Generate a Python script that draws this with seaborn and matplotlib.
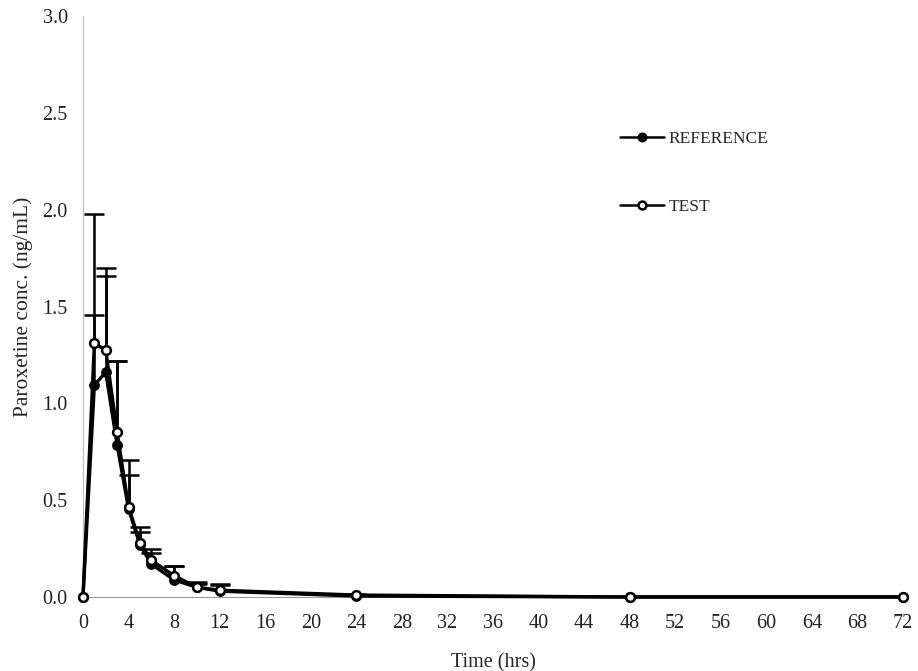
import numpy as np
import pandas as pd
import matplotlib
matplotlib.use("Agg")
import matplotlib.pyplot as plt
import seaborn as sns

time_hrs = [0, 1, 2, 3, 4, 5, 6, 8, 10, 12, 24, 48, 72]
ref_mean = [0.0, 1.095, 1.16, 0.785, 0.455, 0.27, 0.17, 0.088, 0.05, 0.03, 0.005, 0.0, 0.0]
ref_sd = [0.0, 0.36, 0.54, 0.435, 0.175, 0.065, 0.057, 0.072, 0.017, 0.03, 0.005, 0.0, 0.0]
test_mean = [0.0, 1.31, 1.275, 0.85, 0.465, 0.28, 0.19, 0.11, 0.05, 0.035, 0.01, 0.0, 0.0]
test_sd = [0.0, 0.67, 0.385, 0.37, 0.24, 0.08, 0.058, 0.05, 0.027, 0.032, 0.005, 0.0, 0.0]
x_ticks = list(range(0, 73, 4))
y_ticks = [0.0, 0.5, 1.0, 1.5, 2.0, 2.5, 3.0]

sns.set_style("white")
plt.rcParams['font.family'] = ['Liberation Serif', 'DejaVu Serif']

fig = plt.figure(figsize=(9.18, 6.71), dpi=100)
ax = fig.add_axes([0.0904, 0.1103, 0.8933, 0.8658])

df = pd.DataFrame({
    "Time": time_hrs * 2,
    "Conc": ref_mean + test_mean,
    "Group": ["REFERENCE"] * len(time_hrs) + ["TEST"] * len(time_hrs),
})

# error bars (upper only)
for mean, sd in [(ref_mean, ref_sd), (test_mean, test_sd)]:
    sd_arr = np.array(sd)
    mask = sd_arr > 0.004
    t = np.array(time_hrs)[mask]
    m = np.array(mean)[mask]
    s = sd_arr[mask]
    _, caps, _ = ax.errorbar(t, m, yerr=[np.zeros(len(s)), s], fmt='none',
                             ecolor='black', elinewidth=1.8, capsize=7,
                             capthick=1.8, zorder=2)
    caps[0].set_visible(False)

sns.lineplot(data=df[df.Group == "REFERENCE"], x="Time", y="Conc", ax=ax,
             color='black', linewidth=2.4, marker='o', markersize=6.3,
             markerfacecolor='black', markeredgecolor='black', markeredgewidth=1.5,
             label="REFERENCE", zorder=3, clip_on=False)
sns.lineplot(data=df[df.Group == "TEST"], x="Time", y="Conc", ax=ax,
             color='black', linewidth=2.4, marker='o', markersize=6.3,
             markerfacecolor='white', markeredgecolor='black', markeredgewidth=1.8,
             label="TEST", zorder=4, clip_on=False)

ax.set_xlim(0, 72)
ax.set_ylim(0, 3.0)
ax.set_xticks(x_ticks)
ax.set_yticks(y_ticks)
ax.set_yticklabels([f"{v:.1f}" for v in y_ticks])
ax.tick_params(axis='both', labelsize=14.5, colors='#222222')
ax.tick_params(axis='y', direction='out', length=4, width=0.8, color='#bbbbbb', pad=7)
ax.tick_params(axis='x', direction='in', length=4, width=0.8, color='#bbbbbb', pad=12)
for s in ['top', 'right']:
    ax.spines[s].set_visible(False)
ax.spines['left'].set_color('#bbbbbb')
ax.spines['bottom'].set_color('#999999')
ax.spines['left'].set_linewidth(0.8)
ax.spines['bottom'].set_linewidth(0.8)
ax.set_xlabel("Time (hrs)", fontsize=14.5, labelpad=15)
ax.set_ylabel("Paroxetine conc. (ng/mL)", fontsize=15.5, labelpad=7)

leg = ax.legend(loc='upper left', bbox_to_anchor=(0.636, 0.83), frameon=False,
                fontsize=12.5, handlelength=2.5, labelspacing=3.0, handletextpad=0.3,
                markerscale=0.9)
for h in leg.legend_handles:
    h.set_linewidth(1.8)

fig.savefig("out.png", dpi=100)
